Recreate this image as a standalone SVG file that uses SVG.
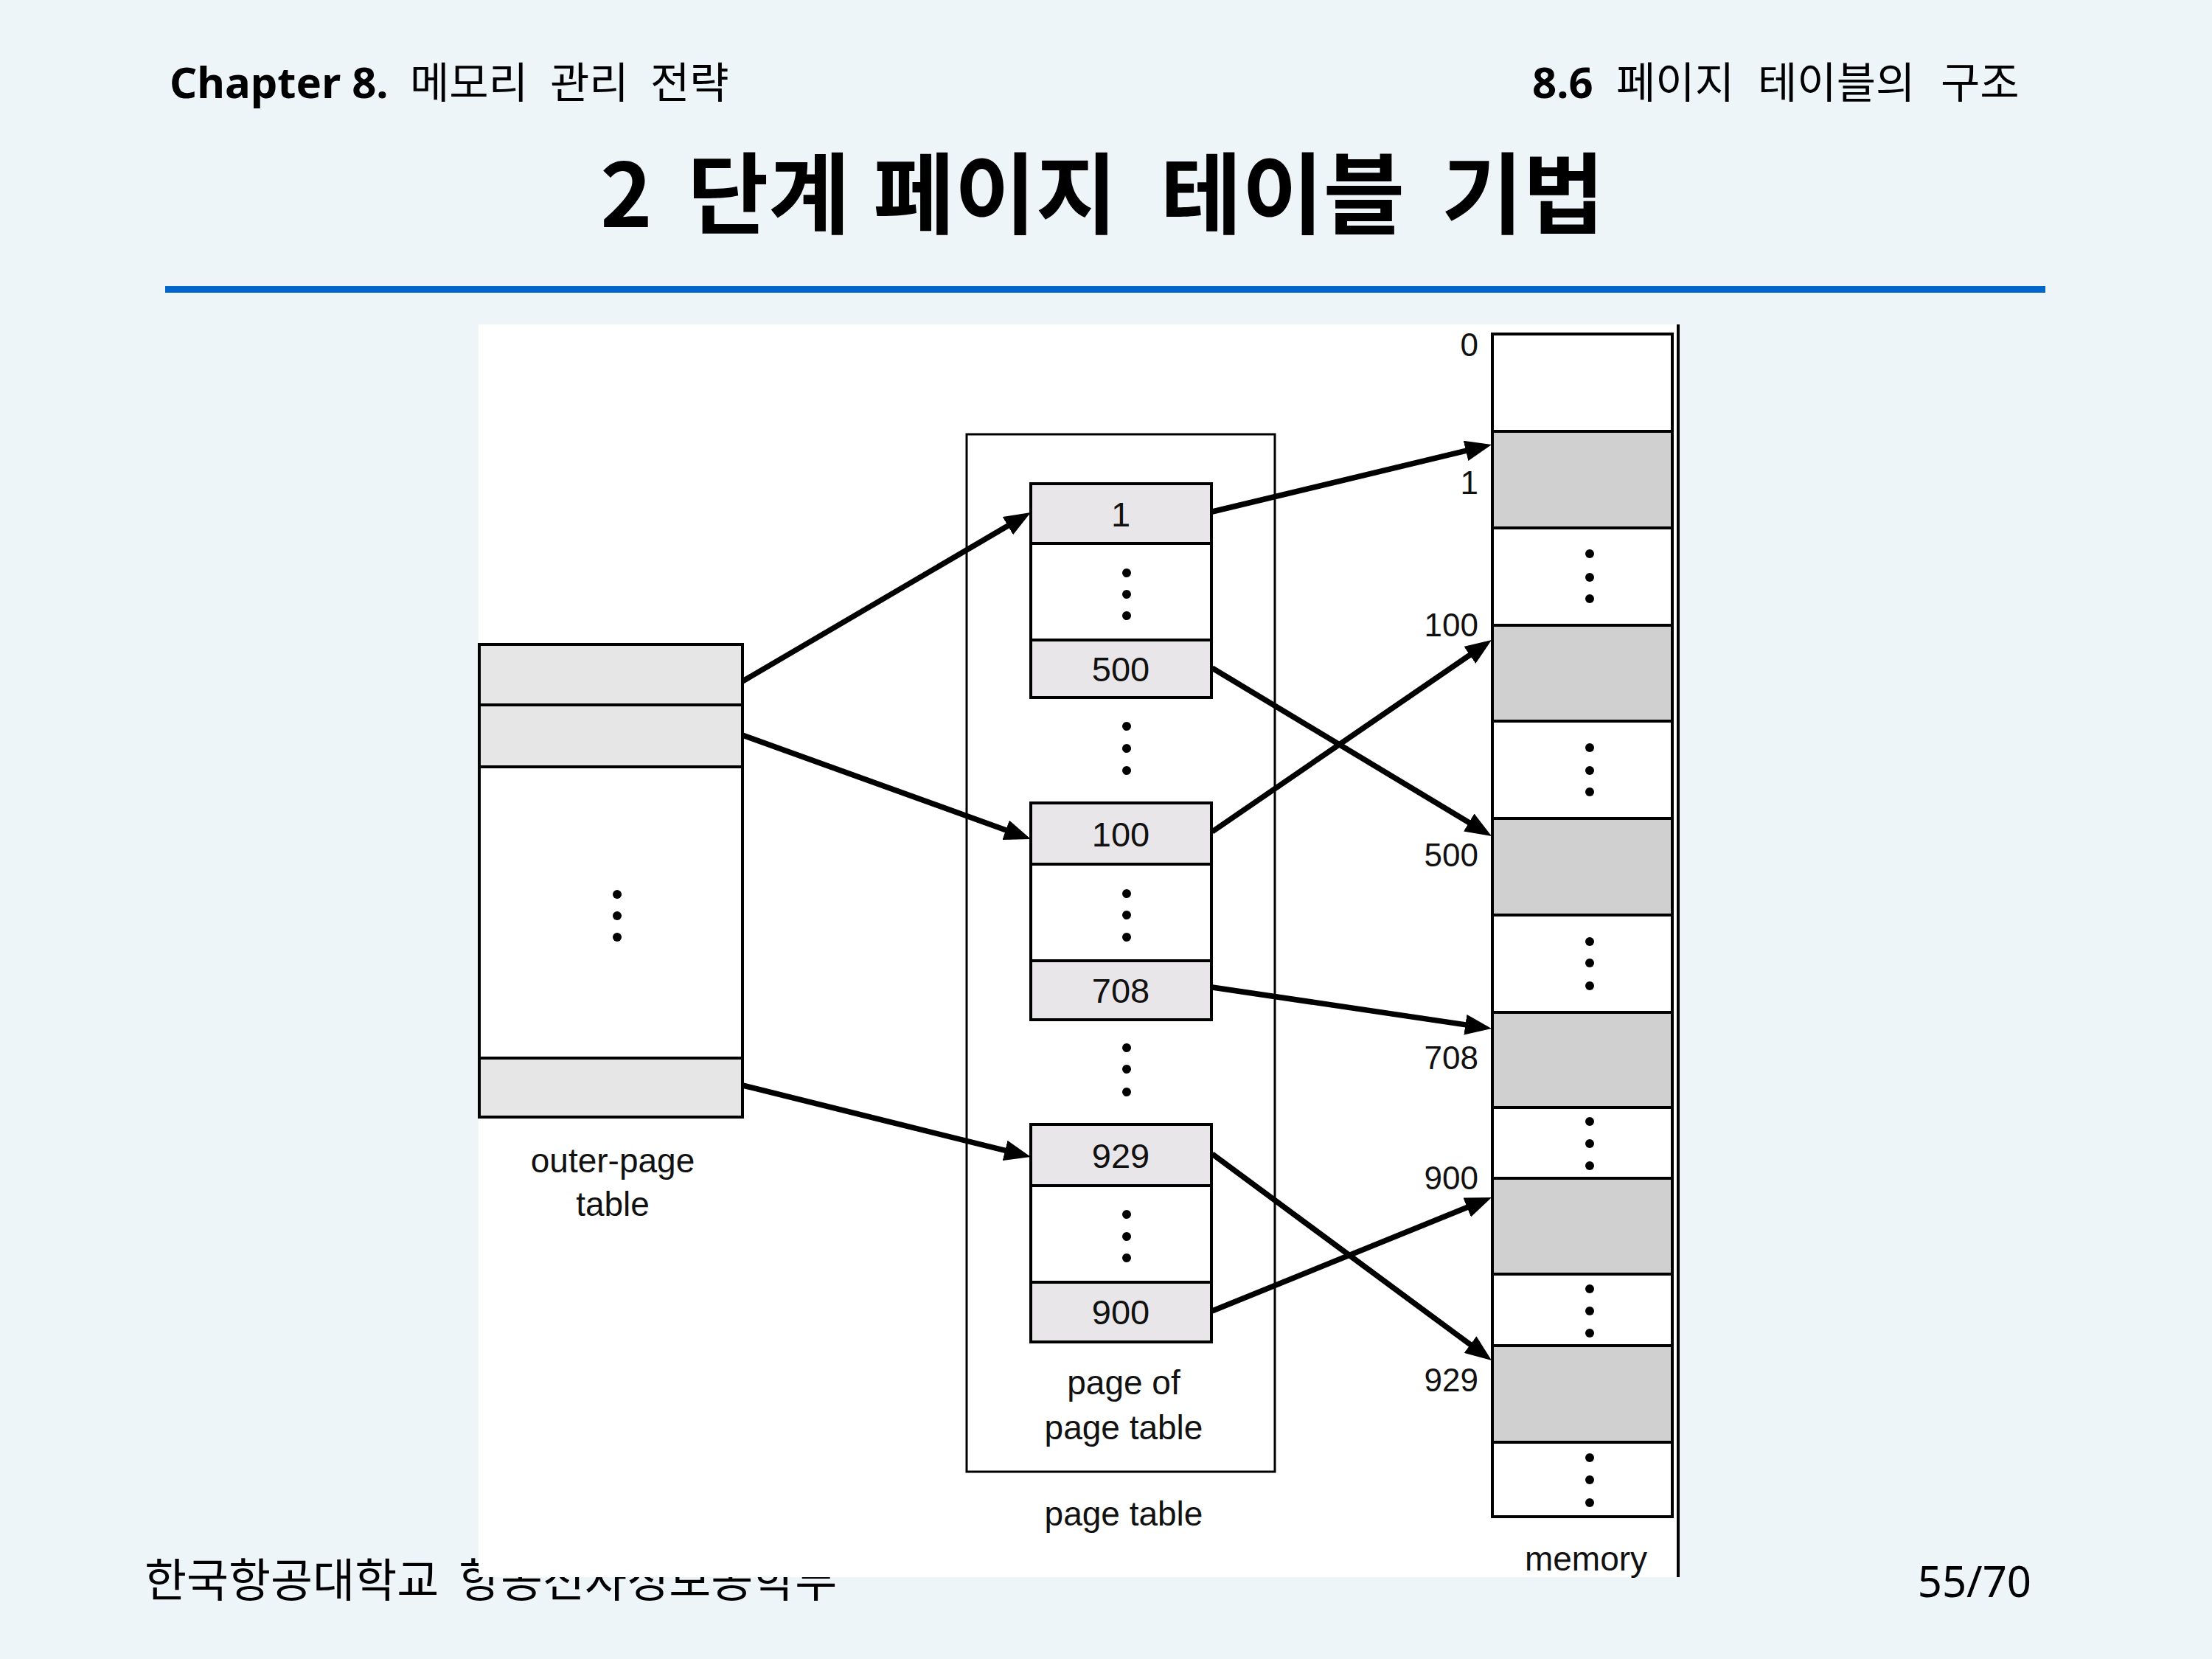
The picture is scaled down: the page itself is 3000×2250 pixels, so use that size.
<svg xmlns="http://www.w3.org/2000/svg" width="3000" height="2250" viewBox="0 0 3000 2250">
<style>
.hdr{font-family:'Noto Sans','Noto Sans CJK KR',sans-serif;font-size:58px;fill:#000}
.b{font-weight:bold}
.ttl{font-family:'Noto Sans CJK KR','Noto Sans',sans-serif;font-size:120px;font-weight:bold;fill:#000}
.ftr{font-family:'Noto Sans CJK KR','Noto Sans',sans-serif;font-size:62px;fill:#000}
.lbl{font-family:'Liberation Sans',Arial,sans-serif;font-size:46px;fill:#111;text-anchor:middle}
.num{font-family:'Liberation Sans',Arial,sans-serif;font-size:47px;fill:#111;text-anchor:middle}
.mnum{font-family:'Liberation Sans',Arial,sans-serif;font-size:44px;fill:#111;text-anchor:end}
.cell{stroke:#000;stroke-width:4}
.g1{fill:#E6E6E6}
.g2{fill:#E8E6E8}
.g3{fill:#D0D0D0}
.w{fill:#FFFFFF}
.dot{fill:#000}
.arr{stroke:#000;stroke-width:7.5;fill:none;marker-end:url(#ah)}
</style>
<defs>
<marker id="ah" viewBox="0 0 36 28" markerWidth="36" markerHeight="28" refX="16" refY="14" orient="auto" markerUnits="userSpaceOnUse">
<path d="M0,0 L36,14 L0,28 Z" fill="#000"/>
</marker>
</defs>
<rect x="0" y="0" width="3000" height="2250" fill="#EDF5F9"/>
<g id="header">
<text class="hdr" y="133"><tspan class="b" x="230">Chapter 8.</tspan><tspan x="556">메모리</tspan><tspan x="746">관리</tspan><tspan x="882">전략</tspan></text>
<text class="hdr" y="133"><tspan class="b" x="2078">8.6</tspan><tspan x="2192">페이지</tspan><tspan x="2384">테이블의</tspan><tspan x="2632">구조</tspan></text>
<text class="ttl" y="308"><tspan x="814">2</tspan><tspan x="932">단계</tspan><tspan x="1184">페이지</tspan><tspan x="1574">테이블</tspan><tspan x="1955">기법</tspan></text>
<rect x="224" y="388" width="2550" height="9" fill="#0066CC"/>
</g>
<g id="footer">
<text class="ftr" y="2166"><tspan x="196">한국항공대학교</tspan><tspan x="622">항공전자정보공학부</tspan></text>
<text class="ftr" x="2755" y="2166" text-anchor="end" style="font-family:'Noto Sans',sans-serif;font-size:58px">55/70</text>
</g>
<rect id="panel" x="649" y="440" width="1627" height="1699" fill="#FFFFFF"/>
<line x1="2276" y1="440" x2="2276" y2="2139" stroke="#000" stroke-width="4"/>

<g id="outer-page-table">
<rect class="cell w" x="650" y="874" width="357" height="641"/>
<rect class="cell g1" x="650" y="874" width="357" height="82"/>
<rect class="cell g1" x="650" y="956" width="357" height="84"/>
<rect class="cell g1" x="650" y="1435" width="357" height="80"/>
<circle class="dot" cx="837" cy="1213" r="6"/><circle class="dot" cx="837" cy="1242" r="6"/><circle class="dot" cx="837" cy="1271" r="6"/>
<text class="lbl" x="831" y="1590">outer-page</text>
<text class="lbl" x="831" y="1649">table</text>
</g>

<g id="page-table">
<rect x="1311" y="589" width="418" height="1407" fill="none" stroke="#000" stroke-width="3"/>
<circle class="dot" cx="1528" cy="985" r="6"/><circle class="dot" cx="1528" cy="1015" r="6"/><circle class="dot" cx="1528" cy="1045" r="6"/>
<circle class="dot" cx="1528" cy="1421" r="6"/><circle class="dot" cx="1528" cy="1450" r="6"/><circle class="dot" cx="1528" cy="1481" r="6"/>
<text class="lbl" x="1524" y="1891">page of</text>
<text class="lbl" x="1524" y="1952">page table</text>
<text class="lbl" x="1524" y="2069">page table</text>
</g>

<g id="page-1">
<rect class="cell w" x="1398" y="656" width="245" height="290"/>
<rect class="cell g2" x="1398" y="656" width="245" height="81"/>
<rect class="cell g2" x="1398" y="868" width="245" height="78"/>
<circle class="dot" cx="1528" cy="777" r="6"/><circle class="dot" cx="1528" cy="806" r="6"/><circle class="dot" cx="1528" cy="835" r="6"/>
<text class="num" x="1520" y="714">1</text>
<text class="num" x="1520" y="924">500</text>
</g>

<g id="page-2">
<rect class="cell w" x="1398" y="1089" width="245" height="294"/>
<rect class="cell g2" x="1398" y="1089" width="245" height="83"/>
<rect class="cell g2" x="1398" y="1303" width="245" height="80"/>
<circle class="dot" cx="1528" cy="1212" r="6"/><circle class="dot" cx="1528" cy="1241" r="6"/><circle class="dot" cx="1528" cy="1271" r="6"/>
<text class="num" x="1520" y="1148">100</text>
<text class="num" x="1520" y="1360">708</text>
</g>

<g id="page-3">
<rect class="cell w" x="1398" y="1525" width="245" height="295"/>
<rect class="cell g2" x="1398" y="1525" width="245" height="83"/>
<rect class="cell g2" x="1398" y="1739" width="245" height="81"/>
<circle class="dot" cx="1528" cy="1647" r="6"/><circle class="dot" cx="1528" cy="1677" r="6"/><circle class="dot" cx="1528" cy="1706" r="6"/>
<text class="num" x="1520" y="1584">929</text>
<text class="num" x="1520" y="1796">900</text>
</g>

<g id="memory">
<rect class="cell w" x="2024" y="453" width="244" height="1604"/>
<rect class="cell g3" x="2024" y="585" width="244" height="131"/>
<rect class="cell g3" x="2024" y="848" width="244" height="130"/>
<rect class="cell g3" x="2024" y="1110" width="244" height="131"/>
<rect class="cell g3" x="2024" y="1373" width="244" height="129"/>
<rect class="cell g3" x="2024" y="1598" width="244" height="130"/>
<rect class="cell g3" x="2024" y="1825" width="244" height="131"/>
<circle class="dot" cx="2156" cy="751" r="6"/><circle class="dot" cx="2156" cy="783" r="6"/><circle class="dot" cx="2156" cy="812" r="6"/>
<circle class="dot" cx="2156" cy="1014" r="6"/><circle class="dot" cx="2156" cy="1045" r="6"/><circle class="dot" cx="2156" cy="1074" r="6"/>
<circle class="dot" cx="2156" cy="1277" r="6"/><circle class="dot" cx="2156" cy="1306" r="6"/><circle class="dot" cx="2156" cy="1337" r="6"/>
<circle class="dot" cx="2156" cy="1521" r="6"/><circle class="dot" cx="2156" cy="1551" r="6"/><circle class="dot" cx="2156" cy="1581" r="6"/>
<circle class="dot" cx="2156" cy="1748" r="6"/><circle class="dot" cx="2156" cy="1778" r="6"/><circle class="dot" cx="2156" cy="1808" r="6"/>
<circle class="dot" cx="2156" cy="1977" r="6"/><circle class="dot" cx="2156" cy="2007" r="6"/><circle class="dot" cx="2156" cy="2038" r="6"/>
<text class="mnum" x="2005" y="483">0</text>
<text class="mnum" x="2005" y="670">1</text>
<text class="mnum" x="2005" y="863">100</text>
<text class="mnum" x="2005" y="1175">500</text>
<text class="mnum" x="2005" y="1450">708</text>
<text class="mnum" x="2005" y="1613">900</text>
<text class="mnum" x="2005" y="1887">929</text>
<text class="lbl" x="2151" y="2130">memory</text>
</g>

<g id="connectors">
<line class="arr" x1="1007" y1="924" x2="1380.7" y2="705.1"/>
<line class="arr" x1="1007" y1="997" x2="1379.2" y2="1131.2"/>
<line class="arr" x1="1007" y1="1472" x2="1378.6" y2="1564.2"/>
<line class="arr" x1="1644" y1="694" x2="2003.6" y2="607.7"/>
<line class="arr" x1="1644" y1="906" x2="2005.9" y2="1123.7"/>
<line class="arr" x1="1644" y1="1128" x2="2006.5" y2="879.3"/>
<line class="arr" x1="1644" y1="1339" x2="2003.2" y2="1392.1"/>
<line class="arr" x1="1644" y1="1565" x2="2006.9" y2="1833.1"/>
<line class="arr" x1="1644" y1="1778" x2="2004.5" y2="1631.5"/>
</g>
</svg>
